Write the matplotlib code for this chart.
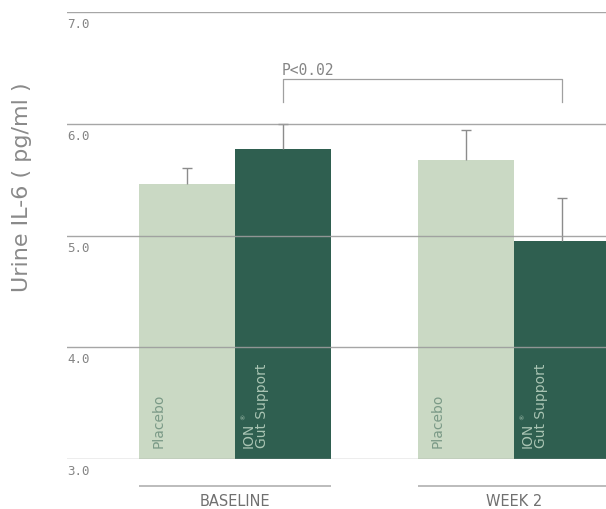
import matplotlib
matplotlib.use("Agg")
import matplotlib.pyplot as plt
import numpy as np

groups = ["BASELINE", "WEEK 2"]
placebo_label = "Placebo"
ion_label_1 = "ION"
ion_label_2 = "Gut Support"
placebo_vals = [5.46, 5.68]
placebo_err = [0.15, 0.27]
ion_vals = [5.78, 4.955]
ion_err = [0.22, 0.38]
yticks = [3.0, 4.0, 5.0, 6.0, 7.0]
pval_text = "P<0.02"

light = "#cad9c4"
dark = "#2f5f50"
grid_c = "#9c9c9c"
text_c = "#858585"

fig = plt.figure(figsize=(6.06, 5.10), dpi=100)
W, H = 606, 510
px_per = (460 - 125) / 3.0
top_px = 460 - 4 * px_per
ax = fig.add_axes([67 / W, (H - 460) / H, (W - 67) / W, (460 - top_px) / H])
ax.set_xlim(-0.602, 1.330)
ax.set_ylim(3.0, 7.0)
for s in ax.spines.values():
    s.set_visible(False)
ax.set_xticks([])
ax.set_yticks([])

x = np.arange(len(groups))
w = 0.344
base = 3.0
ax.bar(x - w / 2, np.array(placebo_vals) - base, w, bottom=base, color=light, zorder=2)
ax.bar(x + w / 2, np.array(ion_vals) - base, w, bottom=base, color=dark, zorder=2)

# upper-only error bars
cap = 0.019
for xs, vals, errs in [(x - w / 2, placebo_vals, placebo_err), (x + w / 2, ion_vals, ion_err)]:
    tops = np.array(vals) + np.array(errs)
    ax.vlines(xs, vals, tops, color="#8c8c8c", lw=1.0, zorder=3)
    ax.hlines(tops, xs - cap, xs + cap, color="#8c8c8c", lw=1.0, zorder=3)

for t in yticks:
    ax.axhline(t, color=grid_c, lw=1.0, zorder=4, alpha=0.9)
    ax.text(0.0, t - 0.045, f"{t:.1f}", transform=ax.get_yaxis_transform(),
            ha="left", va="top", fontsize=9, family="DejaVu Sans Mono", color=text_c)

# bar labels
for i in range(len(groups)):
    ax.text(x[i] - w + 0.045, base + 0.11, placebo_label, rotation=90,
            ha="left", va="bottom", fontsize=10, color="#7b9a87", family="DejaVu Sans")
    ax.text(x[i] + 0.025, base + 0.11, ion_label_1, rotation=90,
            ha="left", va="bottom", fontsize=10, color="#a9c4b3", family="DejaVu Sans")
    ax.text(x[i] + 0.072, base + 0.11, ion_label_2, rotation=90,
            ha="left", va="bottom", fontsize=10, color="#a9c4b3", family="DejaVu Sans")
    ax.text(x[i] + 0.024, base + 0.11 + 0.248, "\u00ae", rotation=90,
            ha="left", va="bottom", fontsize=4.5, color="#a9c4b3", family="DejaVu Sans")

# significance bracket
bx0, bx1 = x[0] + w / 2, x[1] + w / 2
ax.plot([bx0, bx0, bx1, bx1], [6.20, 6.40, 6.40, 6.20], color="#a0a0a0", lw=0.9,
        clip_on=False, zorder=3)
ax.text(bx0 - 0.005, 6.42, pval_text, ha="left", va="bottom", fontsize=10.5,
        family="DejaVu Sans Mono", color=text_c)

# group underlines and labels
for i, g in enumerate(groups):
    ax.plot([x[i] - w, x[i] + w], [2.76, 2.76], color="#bcbcbc", lw=1.4,
            clip_on=False, solid_capstyle="butt")
    ax.text(x[i], 2.625, g, ha="center", va="center", fontsize=10.5, color="#707070",
            family="DejaVu Sans")

fig.text(22 / W, 1 - 187 / H, "Urine IL-6 ( pg/ml )", rotation=90, ha="center",
         va="center", fontsize=16, color="#8a8a8a", family="DejaVu Sans")

fig.savefig("out.png", dpi=100)
